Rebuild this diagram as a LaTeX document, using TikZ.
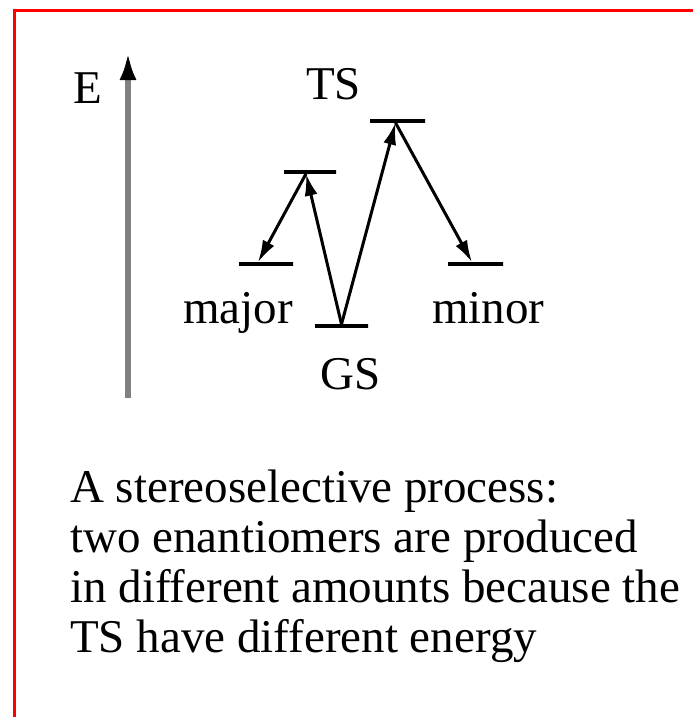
\documentclass[tikz,border=0pt]{standalone}
\usepackage{fontspec}
\setmainfont{Liberation Serif}
\usetikzlibrary{arrows.meta}
\begin{document}
\begin{tikzpicture}[x=1pt, y=-1pt,
    level/.style={draw, line width=3.5pt, inner sep=0pt, minimum height=0pt, minimum width=#1},
    rxn/.style={-{Latex[length=22pt, width=13pt]}, line width=3pt},
    lbl/.style={inner sep=0pt, anchor=base west, font=\fontsize{47}{50}\selectfont}]
    \useasboundingbox (0,0) rectangle (693,717);

    % 红框
    \draw[red, line width=3.5pt] (14.5,717) -- (14.5,10.5) -- (693,10.5);

    % 能量轴
    \coordinate (ebot) at (128,398);
    \coordinate (etop) at (128,52);
    \draw[gray, line width=6pt, -{Latex[length=28pt, width=17pt, black]}] (ebot) -- (etop);
    \node[lbl] (elbl) at (73,103) {E};

    % 能级
    \node[level=52pt] (ts1) at (310,172) {};
    \node[level=55pt] (ts2) at (397.5,121) {};
    \node[level=54pt] (major) at (266,264) {};
    \node[level=55pt] (minor) at (475.5,264) {};
    \node[level=53pt] (gs) at (341.5,326) {};

    % 反应路径
    \draw[rxn] (gs.north) -- ([xshift=-4pt]ts1.south);
    \draw[rxn] ([xshift=-4pt]ts1.south) -- ([xshift=-8pt]major.north);
    \draw[rxn] (gs.north) -- ([xshift=-2pt]ts2.south);
    \draw[rxn] ([xshift=-2pt]ts2.south) -- ([xshift=-3.5pt]minor.north);

    % 标签
    \node[lbl] (tslbl) at (306,99) {TS};
    \node[lbl] (majlbl) at (183,323) {major};
    \node[lbl] (minlbl) at (432,323) {minor};
    \node[lbl] (gslbl) at (320,389) {GS};

    % 说明
    \node[lbl, anchor=north west, align=left] (note) at (70,470) {
        A stereoselective process:\\
        two enantiomers are produced\\
        in different amounts because the\\
        TS have different energy};
\end{tikzpicture}
\end{document}
